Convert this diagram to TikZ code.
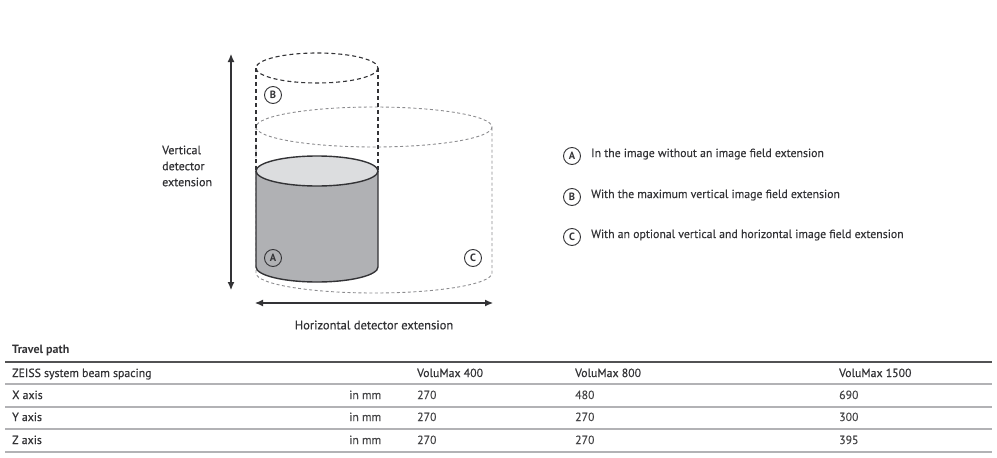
\documentclass[tikz,border=0pt]{standalone}
\usepackage{fontspec}
\setmainfont{PT Sans}
\newfontfamily\medfont[FakeBold=0.6]{PT Sans}
\newfontfamily\regfont[FakeBold=0.25]{PT Sans}
\usepackage{tikz}
\usetikzlibrary{arrows.meta,positioning}
\definecolor{txt}{rgb}{0.2, 0.2, 0.21}
\definecolor{numtxt}{rgb}{0.27, 0.27, 0.28}
\definecolor{cylside}{rgb}{0.69, 0.694, 0.706}
\definecolor{cyltop}{rgb}{0.863, 0.867, 0.875}
\definecolor{ghost}{rgb}{0.55, 0.55, 0.56}
\definecolor{rule}{rgb}{0.70, 0.70, 0.71}
\tikzstyle{letter}=[draw=txt, circle, fill=white, line width=0.9pt, inner sep=0pt, minimum size=17pt, text=txt, font=\fontsize{10.5}{12}\selectfont\bfseries]
\tikzstyle{keytext}=[anchor=base west, inner sep=0pt, text=txt, font=\fontsize{11.8}{14}\selectfont\regfont]
\tikzstyle{cell}=[anchor=base west, inner sep=0pt, text=numtxt, font=\fontsize{11.8}{14}\selectfont\regfont]
\tikzstyle{rowhead}=[anchor=base west, inner sep=0pt, text=txt, font=\fontsize{11.8}{14}\selectfont\medfont]
\tikzstyle{maxcyl}=[draw=txt, line width=1.1pt, dash pattern=on 4pt off 3pt]
\tikzstyle{optcyl}=[draw=ghost, line width=0.9pt, dash pattern=on 3pt off 2.5pt]
\tikzstyle{span}=[{Latex[length=8pt,width=7pt]}-{Latex[length=8pt,width=7pt]}, txt, line width=1.1pt]

\begin{document}
\begin{tikzpicture}[x=1pt,y=-1pt]
\useasboundingbox (0,0) rectangle (997,458);
% C: vertical and horizontal extension
\draw[optcyl] (374,127) ellipse (118 and 20);
\draw[optcyl] (256,127) -- (256,273) arc[start angle=180, end angle=0, x radius=118, y radius=20] -- (492,127);
% B: maximum vertical extension
\draw[maxcyl] (317,68) ellipse (61 and 15);
\draw[maxcyl] (256,68) -- (256,171);
\draw[maxcyl] (378,68) -- (378,171);
% A: without extension
\fill[cylside] (256,171) -- (256,267) arc[start angle=180, end angle=0, x radius=61, y radius=15] -- (378,171) -- cycle;
\draw[txt, line width=1.4pt] (256,171) -- (256,267) arc[start angle=180, end angle=0, x radius=61, y radius=15] -- (378,171);
\draw[txt, line width=1.4pt, fill=cyltop] (317,171) ellipse (61 and 15);

\node[letter] (labB) at (273,95) {B};
\node[letter, fill=cylside] (labA) at (273,258) {A};
\node[letter] (labC) at (473,258) {C};

\coordinate (vtop) at (231,54);
\coordinate (vbot) at (231,290);
\draw[span] (vtop) -- (vbot);
\coordinate (hleft) at (255,303);
\coordinate (hright) at (493,303);
\draw[span] (hleft) -- (hright);
\node[anchor=west, align=left, inner sep=0pt, text=txt, font=\fontsize{12}{16}\selectfont\medfont] (vtext) at (162,166) {Vertical\\detector\\extension};
\node[text=txt, inner sep=0pt, font=\fontsize{12.5}{14}\selectfont\medfont] (htext) at (374,325) {Horizontal detector extension};

% legend
\node[letter] (keyA) at (572,156) {A};
\node[letter] (keyB) at (572,197) {B};
\node[letter] (keyC) at (572,237) {C};
\node[keytext] (txtA) at (591,157) {In the image without an image field extension};
\node[keytext] (txtB) at (591,198) {With the maximum vertical image field extension};
\node[keytext] (txtC) at (591,238) {With an optional vertical and horizontal image field extension};

% table
\node[anchor=base west, inner sep=0pt, text=txt, font=\fontsize{12}{14}\selectfont\bfseries] (title) at (12,353) {Travel path};
\draw[txt!85, line width=1.2pt] (5,362) -- (992,362);
\node[rowhead] (hd0) at (12,377) {ZEISS system beam spacing};
\node[rowhead] (hd1) at (417,377) {VoluMax 400};
\node[rowhead] (hd2) at (575,377) {VoluMax 800};
\node[rowhead] (hd3) at (839,377) {VoluMax 1500};
\draw[rule, line width=1.2pt] (5,384) -- (992,384);
\node[rowhead] (xax) at (12,399) {X axis};
\node[cell] (xun) at (349,399) {in mm};
\node[cell] (x1) at (417,399) {270};
\node[cell] (x2) at (575,399) {480};
\node[cell] (x3) at (839,399) {690};
\draw[rule, line width=1.2pt] (5,407) -- (992,407);
\node[rowhead] (yax) at (12,421) {Y axis};
\node[cell] (yun) at (349,421) {in mm};
\node[cell] (y1) at (417,421) {270};
\node[cell] (y2) at (575,421) {270};
\node[cell] (y3) at (839,421) {300};
\draw[rule, line width=1.2pt] (5,429) -- (992,429);
\node[rowhead] (zax) at (12,444) {Z axis};
\node[cell] (zun) at (349,444) {in mm};
\node[cell] (z1) at (417,444) {270};
\node[cell] (z2) at (575,444) {270};
\node[cell] (z3) at (839,444) {395};
\draw[rule, line width=1.2pt] (5,452) -- (992,452);
\end{tikzpicture}
\end{document}
